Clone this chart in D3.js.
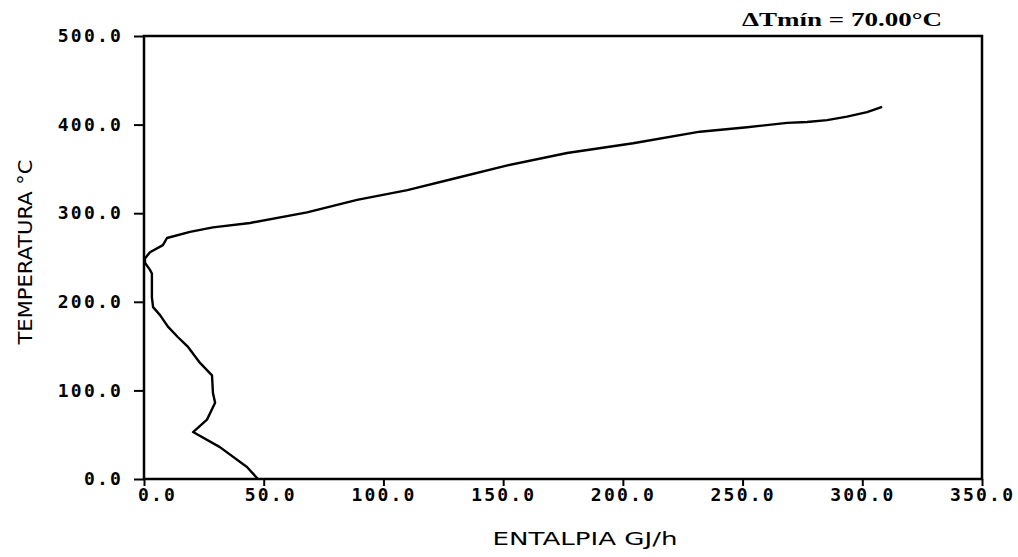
<!DOCTYPE html>
<html>
<head>
<meta charset="utf-8">
<script src="https://cdn.jsdelivr.net/npm/d3@7"></script>
<style>
  body { margin: 0; background: #fff; }
  .tick text { font-family: "DejaVu Sans Mono", monospace; font-weight: bold; font-size: 18px; letter-spacing: 2.2px; fill: #000; }
</style>
</head>
<body>
<script>
// Curve values (enthalpy GJ/h, temperature °C)
var enthalpy = [47.6, 43, 31.7, 20.5, 26.3, 29.7, 28.8, 28.4, 23.4, 18.4, 14.2, 10, 6.7, 3.8, 3.3,
  3.3, 2.5, 0.4, 0.4, 2.5, 7.9, 9.6, 19.2, 28.8, 44.3, 68.1, 89, 110, 130.9, 151.8, 176.7,
  204.3, 232.2, 251.9, 268.6, 276.9, 285.3, 293.6, 302, 308.3];
var temperature = [0, 13.5, 36, 53, 67, 86, 97, 117, 131, 149, 160, 172, 185, 194, 205,
  232, 236, 244, 249, 256, 264, 272, 279, 284, 289, 301, 315, 326, 340, 354, 368,
  379, 392, 397, 402, 403, 405, 409, 414, 420];

var xTicks = [0, 50, 100, 150, 200, 250, 300, 350];
var yTicks = [0, 100, 200, 300, 400, 500];
var title = "\u0394Tm\u00edn = 70.00\u00b0C";
var xLabel = "ENTALPIA GJ/h";
var yLabel = "TEMPERATURA \u00b0C";

var width = 1018, height = 557;
var margins = {top: 36, right: 36, bottom: 78, left: 144};

var svg = d3.select("body")
  .append("svg")
  .attr("width", width)
  .attr("height", height);

var x_Scale = d3.scaleLinear()
  .domain([0, 350])
  .range([margins.left, width - margins.right]);

var y_Scale = d3.scaleLinear()
  .domain([0, 500])
  .range([height - margins.bottom, margins.top]);

var fmt = d3.format(".1f");
var charW = 13; // advance of one tick label character

// Bottom axis: the digit before the decimal point sits over the tick
var x_Axis = svg.append("g")
  .attr("transform", `translate(0, ${y_Scale(0)})`)
  .call(d3.axisBottom(x_Scale).tickValues(xTicks).tickFormat(fmt).tickSize(7).tickPadding(2));
x_Axis.selectAll(".tick text")
  .attr("text-anchor", "start")
  .attr("x", function(d) { return -(String(Math.floor(d)).length - 0.5) * charW; });

var y_Axis = svg.append("g")
  .attr("transform", `translate(${margins.left}, 0)`)
  .call(d3.axisLeft(y_Scale).tickValues(yTicks).tickFormat(fmt).tickSize(10).tickPadding(11));

svg.selectAll(".domain").remove();
svg.selectAll(".tick line").attr("stroke", "#000").attr("stroke-width", 2);

// Frame round the plot
svg.append("rect")
  .attr("x", x_Scale(0))
  .attr("y", y_Scale(500))
  .attr("width", x_Scale(350) - x_Scale(0))
  .attr("height", y_Scale(0) - y_Scale(500))
  .attr("fill", "none")
  .attr("stroke", "#000")
  .attr("stroke-width", 2.5);

// The curve
var pts = enthalpy.map(function(h, i) { return {h: h, t: temperature[i]}; });
var line = d3.line()
  .x(function(d) { return x_Scale(d.h); })
  .y(function(d) { return y_Scale(d.t); });

svg.append("path")
  .attr("d", line(pts))
  .attr("fill", "none")
  .attr("stroke", "#000")
  .attr("stroke-width", 2.4)
  .attr("stroke-linejoin", "round");

// Texts
svg.append("text")
  .attr("x", 842)
  .attr("y", 26)
  .attr("text-anchor", "middle")
  .attr("textLength", 200)
  .attr("lengthAdjust", "spacingAndGlyphs")
  .style("font-family", "'Liberation Serif', serif")
  .style("font-weight", "bold")
  .style("font-size", "18px")
  .text(title);

svg.append("text")
  .attr("x", 585)
  .attr("y", 545)
  .attr("text-anchor", "middle")
  .attr("textLength", 185)
  .attr("lengthAdjust", "spacingAndGlyphs")
  .style("font-family", "'DejaVu Sans', sans-serif")
  .style("font-size", "17px")
  .text(xLabel);

svg.append("text")
  .attr("transform", "translate(32, 252) rotate(-90)")
  .attr("text-anchor", "middle")
  .attr("textLength", 185)
  .attr("lengthAdjust", "spacingAndGlyphs")
  .style("font-family", "'DejaVu Sans', sans-serif")
  .style("font-size", "19px")
  .text(yLabel);
</script>
</body>
</html>
